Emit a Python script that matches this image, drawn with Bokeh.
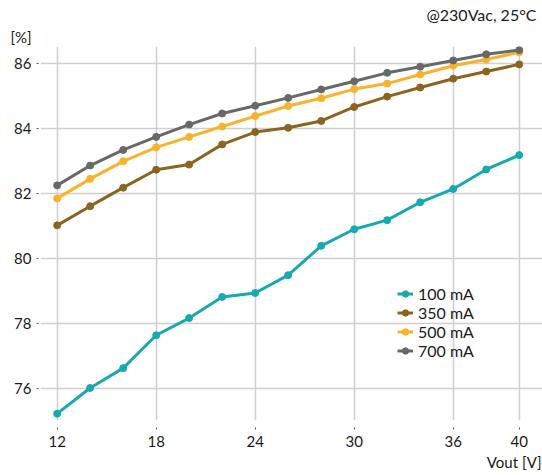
from bokeh.plotting import figure
from bokeh.models import Range1d, FixedTicker, Title
from bokeh.embed import file_html
from bokeh.resources import INLINE

vout = [12, 14, 16, 18, 20, 22, 24, 26, 28, 30, 32, 34, 36, 38, 40]
eff_100 = [75.23, 76.02, 76.63, 77.64, 78.17, 78.82, 78.94, 79.49, 80.39, 80.90, 81.18, 81.73, 82.14, 82.74, 83.18]
eff_350 = [81.02, 81.61, 82.18, 82.73, 82.89, 83.51, 83.89, 84.02, 84.23, 84.66, 84.98, 85.26, 85.53, 85.75, 85.97]
eff_500 = [81.85, 82.45, 82.99, 83.42, 83.74, 84.06, 84.38, 84.69, 84.93, 85.21, 85.38, 85.66, 85.93, 86.12, 86.34]
eff_700 = [82.25, 82.86, 83.34, 83.74, 84.12, 84.46, 84.70, 84.94, 85.20, 85.45, 85.71, 85.90, 86.09, 86.28, 86.41]

series_labels = ["100 mA", "350 mA", "500 mA", "700 mA"]
series_colors = ["#18a9b0", "#8b6420", "#f8b22c", "#676868"]
x_ticks = [12, 18, 24, 30, 36, 40]
y_ticks = [76, 78, 80, 82, 84, 86]

FONT = "Lato"
TXT = "#1a1a1a"

p = figure(width=542, height=475, output_backend="svg", toolbar_location=None,
           x_range=Range1d(10.99, 41.41), y_range=Range1d(75.02, 86.52),
           min_border_left=40, min_border_right=0, min_border_top=46, min_border_bottom=55)
p.outline_line_color = None
p.background_fill_color = "white"
p.border_fill_color = "white"

for ax, ticks in ((p.xaxis[0], x_ticks), (p.yaxis[0], y_ticks)):
    ax.ticker = FixedTicker(ticks=ticks)
    ax.axis_line_color = None
    ax.minor_tick_line_color = None
    ax.major_tick_line_color = "#555555"
    ax.major_tick_line_width = 1
    ax.major_label_text_font = FONT
    ax.major_label_text_font_size = "15px"
    ax.major_label_text_color = TXT

p.xaxis.major_tick_in = -7
p.xaxis.major_tick_out = 9
p.xaxis.major_label_standoff = 6
p.yaxis.major_tick_in = -2
p.yaxis.major_tick_out = 4
p.yaxis.major_label_standoff = 5

p.xgrid.grid_line_color = "#cfcfcf"
p.ygrid.grid_line_color = "#cfcfcf"
p.xgrid.grid_line_width = 1.5
p.ygrid.grid_line_width = 1.5

for vals, lab, col in zip([eff_100, eff_350, eff_500, eff_700], series_labels, series_colors):
    p.line(vout, vals, line_color=col, line_width=3, legend_label=lab)
    p.scatter(vout, vals, marker="circle", size=7, fill_color=col, line_color=col, legend_label=lab)

lg = p.legend[0]
lg.location = (357, 60)
lg.border_line_color = None
lg.background_fill_alpha = 0
lg.padding = 0
lg.margin = 0
lg.spacing = 0
lg.glyph_height = 17
lg.glyph_width = 16
lg.label_height = 17
lg.label_standoff = 5
lg.label_text_font = FONT
lg.label_text_font_size = "16px"
lg.label_text_color = TXT

p.title.text = "@230Vac, 25°C"
p.title.align = "right"
p.title.offset = 6
p.title.standoff = 2
p.title.text_font = FONT
p.title.text_font_size = "16px"
p.title.text_font_style = "normal"
p.title.text_color = TXT

p.add_layout(Title(text="[%]", align="left", offset=-30, standoff=2, text_font=FONT,
                   text_font_size="15px", text_font_style="normal", text_color=TXT), "above")
p.add_layout(Title(text="Vout [V]", align="right", offset=1, standoff=2, text_font=FONT,
                   text_font_size="15px", text_font_style="normal", text_color=TXT), "below")

open("out.html", "w").write(file_html(p, INLINE))
